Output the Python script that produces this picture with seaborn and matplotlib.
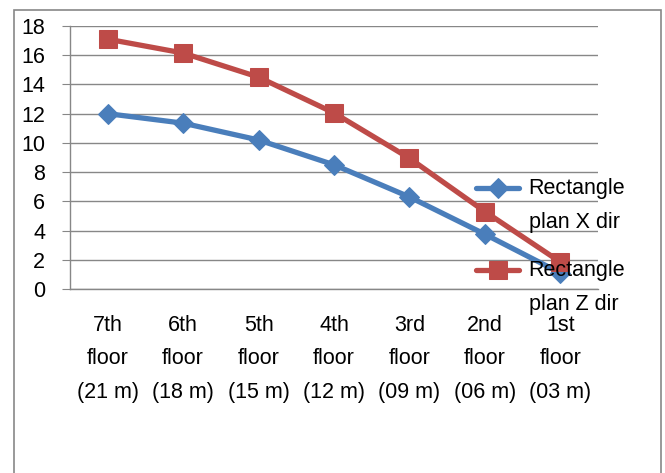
import matplotlib
matplotlib.use("Agg")
import matplotlib.pyplot as plt
import seaborn as sns
import pandas as pd
import numpy as np
from matplotlib.patches import Rectangle

# data
floors = ["7th\nfloor\n(21 m)", "6th\nfloor\n(18 m)", "5th\nfloor\n(15 m)",
          "4th\nfloor\n(12 m)", "3rd\nfloor\n(09 m)", "2nd\nfloor\n(06 m)",
          "1st\nfloor\n(03 m)"]
x_dir = [12.0, 11.35, 10.2, 8.5, 6.3, 3.75, 1.1]
z_dir = [17.1, 16.15, 14.5, 12.05, 8.95, 5.3, 1.85]
labels = ["Rectangle\nplan X dir", "Rectangle\nplan Z dir"]

blue = "#4A7EBB"
red = "#BE4B48"
gray = "#878787"

sns.set_style("white")
plt.rcParams["font.family"] = ["Liberation Sans", "DejaVu Sans"]
plt.rcParams["text.color"] = "black"
plt.rcParams["xtick.color"] = "black"
plt.rcParams["ytick.color"] = "black"

fs = 15.5

fig = plt.figure(figsize=(6.65, 4.73), dpi=100)
ax = fig.add_axes([70 / 665, 1 - 289 / 473, 528 / 665, 263 / 473])

df_x = pd.DataFrame({"floor": floors, "val": x_dir})
df_z = pd.DataFrame({"floor": floors, "val": z_dir})

sns.lineplot(data=df_x, x="floor", y="val", sort=False, ax=ax, color=blue,
             linewidth=3.8, marker="D", markersize=10, markeredgecolor=blue,
             label=labels[0])
sns.lineplot(data=df_z, x="floor", y="val", sort=False, ax=ax, color=red,
             linewidth=3.8, marker="s", markersize=13, markeredgecolor=red,
             label=labels[1])

ax.set_xlim(-0.5, len(floors) - 0.5)
ax.set_ylim(0, 18)
ax.set_yticks(range(0, 19, 2))
ax.set_xlabel("")
ax.set_ylabel("")

ax.grid(axis="y", color=gray, linewidth=1)
ax.set_axisbelow(True)
for s in ["top", "right"]:
    ax.spines[s].set_visible(False)
for s in ["left", "bottom"]:
    ax.spines[s].set_color(gray)
    ax.spines[s].set_linewidth(1)

ax.set_xticks([i - 0.5 for i in range(len(floors) + 1)], minor=True)
ax.tick_params(axis="x", which="minor", length=6, color=gray, direction="out")
ax.tick_params(axis="x", which="major", length=0, pad=18.5, labelsize=fs)
ax.tick_params(axis="y", which="major", length=6, color=gray, direction="out",
               pad=12, labelsize=fs, left=True)
for t in ax.get_xticklabels():
    t.set_linespacing(1.8)

leg = ax.legend(loc="upper left", bbox_to_anchor=(476 / 665, 1 - 178 / 473),
                bbox_transform=fig.transFigure, frameon=False, fontsize=fs,
                handlelength=2.0, handletextpad=0.45, labelspacing=1.28,
                borderpad=0, borderaxespad=0)
for t in leg.get_texts():
    t.set_linespacing(1.8)
# put the legend keys next to the first line of each label
for ln in leg.get_lines():
    ln.set_ydata(np.asarray(ln.get_ydata()) + 13)

# outer chart frame (open at the bottom like the cropped reference)
fig.patches.append(Rectangle((14 / 665, -10 / 473), 647 / 665, 473 / 473,
                             transform=fig.transFigure, fill=False,
                             edgecolor=gray, linewidth=1.2))

fig.savefig("out.png", dpi=100)
